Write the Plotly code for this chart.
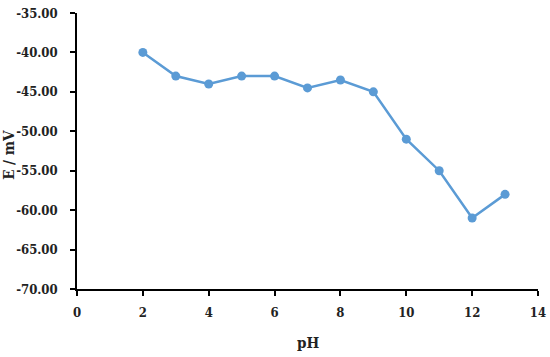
import plotly.graph_objects as go

# pH vs potencial
ph = [2, 3, 4, 5, 6, 7, 8, 9, 10, 11, 12, 13]
e_mv = [-40.0, -43.0, -44.0, -43.0, -43.0, -44.5, -43.5, -45.0, -51.0, -55.0, -61.0, -58.0]

x_ticks = [0, 2, 4, 6, 8, 10, 12, 14]
y_ticks = [-70, -65, -60, -55, -50, -45, -40, -35]
y_labels = ["-70.00", "-65.00", "-60.00", "-55.00", "-50.00", "-45.00", "-40.00", "-35.00"]

FONT = "DejaVu Serif Condensed, DejaVu Serif"
BLUE = "#5B9BD5"
TXT = "#222"

fig = go.Figure(go.Scatter(
    x=ph, y=e_mv,
    mode="lines+markers",
    line=dict(color=BLUE, width=2.5),
    marker=dict(color=BLUE, size=9),
))

axis_common = dict(
    showgrid=False, zeroline=False, automargin=False,
    showline=True, linecolor="black", linewidth=1.5,
    ticks="outside", tickcolor="black", ticklen=5, tickwidth=1.5,
    tickfont=dict(family=FONT, size=13, color=TXT, weight="bold"),
)

fig.update_layout(
    width=550, height=357,
    margin=dict(l=77, r=12, t=13, b=68),
    plot_bgcolor="white", paper_bgcolor="white",
    showlegend=False,
    font=dict(family=FONT, color=TXT),
    xaxis=dict(range=[0, 14], tickvals=x_ticks, ticklabelstandoff=6, **axis_common),
    yaxis=dict(range=[-70, -35], tickvals=y_ticks, ticktext=y_labels,
               ticklabelstandoff=10, **axis_common),
    annotations=[
        dict(text="<b>E / mV</b>", textangle=-90,
             xref="paper", yref="paper", x=-0.1475, y=0.486,
             xanchor="center", yanchor="middle",
             showarrow=False, font=dict(family=FONT, size=15, color=TXT)),
        dict(text="<b>pH</b>",
             xref="paper", yref="paper", x=0.5, y=-0.196,
             xanchor="center", yanchor="middle",
             showarrow=False, font=dict(family=FONT, size=15, color=TXT)),
    ],
)

# page body margin off so the figure sits at the window origin
fig.write_html("out.html", config={"displayModeBar": False},
               post_script="document.body.style.margin='0';")
